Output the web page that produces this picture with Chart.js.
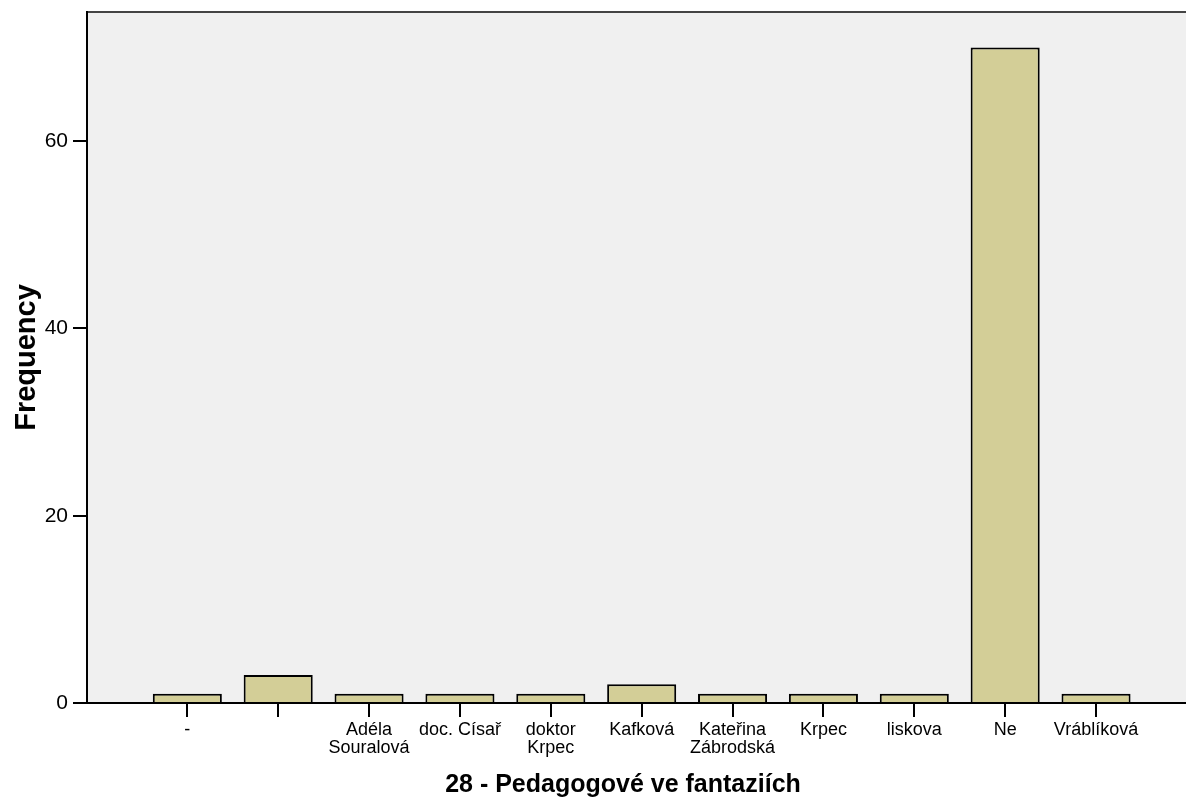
<!DOCTYPE html>
<html>
<head>
<meta charset="utf-8">
<script src="https://cdn.jsdelivr.net/npm/chart.js@4"></script>
<style>
  body { margin: 0; background: #fff; }
  canvas { display: block; }
</style>
</head>
<body>
<canvas id="myChart" width="1186" height="802"></canvas>
<script>
// categories (multi-line labels as arrays)
const categories = ['-', ' ', ['Adéla', 'Souralová'], 'doc. Císař', ['doktor', 'Krpec'], 'Kafková',
  ['Kateřina', 'Zábrodská'], 'Krpec', 'liskova', 'Ne', 'Vráblíková'];
const frequency = [1, 3, 1, 1, 1, 2, 1, 1, 1, 70, 1];
const yTicks = [0, 20, 40, 60];
const xTitle = '28 - Pedagogové ve fantaziích';
const yTitle = 'Frequency';

const fontFamily = '"Liberation Sans", Arial, sans-serif';

const plotBg = {
  id: 'plotBg',
  beforeDraw(chart) {
    const c = chart.ctx, a = chart.chartArea;
    c.save();
    c.fillStyle = '#f0f0f0';
    c.fillRect(a.left, a.top, a.right - a.left, a.bottom - a.top);
    c.strokeStyle = '#444';
    c.lineWidth = 2;
    c.beginPath();
    c.moveTo(a.left, a.top);
    c.lineTo(a.right, a.top);
    c.stroke();
    c.restore();
  },
  afterDraw(chart) {
    const c = chart.ctx;
    c.save();
    c.fillStyle = '#000';
    c.font = 'bold 25px ' + fontFamily;
    c.textAlign = 'center';
    c.textBaseline = 'alphabetic';
    c.fillText(xTitle, 623, 792);
    c.restore();
  }
};

const ctx = document.getElementById('myChart');
new Chart(ctx, {
  type: 'bar',
  data: {
    datasets: [{
      label: yTitle,
      data: frequency.map((v, i) => ({ x: i, y: v })),
      backgroundColor: '#d3ce97',
      borderColor: '#000',
      borderWidth: 2,
      categoryPercentage: 1,
      barPercentage: 0.76
    }]
  },
  options: {
    responsive: false,
    devicePixelRatio: 1,
    animation: false,
    layout: { padding: { top: 12, right: 0, bottom: 0, left: 0 } },
    plugins: {
      legend: { display: false },
      tooltip: { enabled: false }
    },
    scales: {
      x: {
        type: 'linear',
        offset: false,
        min: -1.104,
        max: 10.99,
        afterBuildTicks: (scale) => { scale.ticks = categories.map((c, i) => ({ value: i })); },
        afterFit: (scale) => { scale.height = 99; scale.paddingLeft = 0; scale.paddingRight = 0; },
        ticks: {
          autoSkip: false,
          maxRotation: 0,
          color: '#000',
          padding: 4,
          font: { family: fontFamily, size: 18, lineHeight: 1.0 },
          callback: (v) => categories[v]
        },
        grid: { offset: false, drawOnChartArea: false, tickLength: 14, color: '#000', lineWidth: 2 },
        border: { color: '#000', width: 2 }
      },
      y: {
        min: 0,
        max: 73.8,
        afterBuildTicks: (scale) => { scale.ticks = yTicks.map(v => ({ value: v })); },
        afterFit: (scale) => { scale.width = 87; scale.paddingTop = 0; scale.paddingBottom = 0; },
        ticks: {
          color: '#000',
          padding: 5,
          font: { family: fontFamily, size: 21 }
        },
        grid: { drawOnChartArea: false, tickLength: 14, color: '#000', lineWidth: 2 },
        border: { color: '#000', width: 2 },
        title: {
          display: true,
          text: yTitle,
          color: '#000',
          padding: { top: 10, bottom: 0 },
          font: { family: fontFamily, size: 29, weight: 'bold' }
        }
      }
    }
  },
  plugins: [plotBg]
});
</script>
</body>
</html>
